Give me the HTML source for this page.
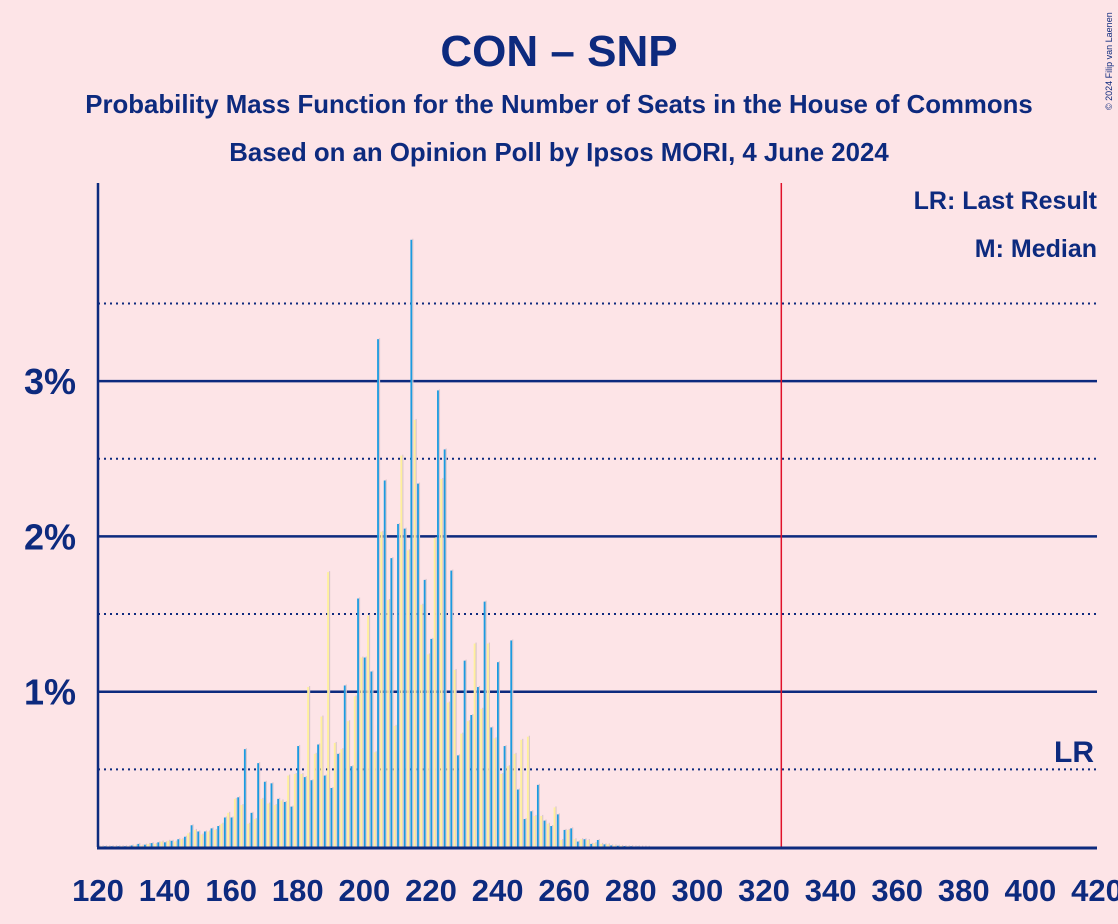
<!DOCTYPE html>
<html><head><meta charset="utf-8"><style>
html,body{margin:0;padding:0;background:#fde4e7;}
svg{display:block;font-family:"Liberation Sans",sans-serif;}
</style></head><body>
<svg id="chart" width="1118" height="924" viewBox="0 0 1118 924">
<rect x="0" y="0" width="1118" height="924" fill="#fde4e7"/>
<text x="559" y="66" text-anchor="middle" font-size="44" font-weight="bold" fill="#0d2a7e">CON – SNP</text>
<text x="559" y="113" text-anchor="middle" font-size="25.8" font-weight="bold" fill="#0d2a7e">Probability Mass Function for the Number of Seats in the House of Commons</text>
<text x="559" y="161" text-anchor="middle" font-size="25.8" font-weight="bold" fill="#0d2a7e">Based on an Opinion Poll by Ipsos MORI, 4 June 2024</text>
<text transform="translate(1112,110) rotate(-90)" font-size="9" fill="#0d2a7e">© 2024 Filip van Laenen</text>
<g id="grid"></g>
<g id="bars"></g>
<g id="axes"></g>
<text x="1097" y="209" text-anchor="end" font-size="25" font-weight="bold" fill="#0d2a7e">LR: Last Result</text>
<text x="1097" y="257" text-anchor="end" font-size="25" font-weight="bold" fill="#0d2a7e">M: Median</text>
<text x="1094" y="762" text-anchor="end" font-size="30" font-weight="bold" fill="#0d2a7e">LR</text>
</svg>
<script>
const seatStart = 120;
const probs = [
0.005,0.005,0.005,0.005,0.005,0.005,0.005,0.005,0.005,0.005,
0.01,0.01,0.02,0.01,0.015,0.02,0.025,0.02,0.03,0.035,
0.03,0.04,0.04,0.035,0.05,0.05,0.066,0.088,0.14,0.11,
0.10,0.08,0.10,0.10,0.12,0.11,0.135,0.15,0.19,0.22,
0.19,0.31,0.32,0.27,0.63,0.15,0.22,0.18,0.54,0.31,
0.42,0.28,0.41,0.27,0.31,0.30,0.29,0.46,0.26,0.47,
0.65,0.47,0.45,1.03,0.43,0.60,0.66,0.84,0.46,1.77,
0.38,0.67,0.60,0.63,1.04,0.81,0.52,0.97,1.60,1.22,
1.22,1.49,1.13,0.61,3.27,2.03,2.36,1.59,1.86,0.78,
2.08,2.52,2.05,1.91,3.91,2.75,2.34,1.56,1.72,1.24,
1.34,1.99,2.94,2.37,2.56,0.93,1.78,1.14,0.59,0.73,
1.20,0.81,0.85,1.31,1.03,0.89,1.58,1.31,0.77,0.70,
1.19,0.47,0.65,0.52,1.33,0.60,0.37,0.69,0.18,0.71,
0.23,0.20,0.40,0.20,0.17,0.15,0.135,0.255,0.21,0.045,
0.11,0.11,0.12,0.05,0.035,0.05,0.05,0.045,0.02,0.025,
0.045,0.02,0.017,0.017,0.01,0.01,0.008,0.007,0.006,0.005,
0.005,0.004,0.004,0.003,0.003,0.002
];
const xTicks = [120,140,160,180,200,220,240,260,280,300,320,340,360,380,400,420];
const yTicks = [1,2,3];
const yMinorTicks = [0.5,1.5,2.5,3.5];
const majority = 325.2;

const NS='http://www.w3.org/2000/svg';
const X0=98, X1=1097, Y0=847, PX=155.3;
function xs(s){return X0+(s-120)*(X1-X0)/300;}
function ys(v){return Y0-v*PX;}
function mk(tag,attrs,parent){const e=document.createElementNS(NS,tag);for(const k in attrs)e.setAttribute(k,attrs[k]);parent.appendChild(e);return e;}
const grid=document.getElementById('grid'), bars=document.getElementById('bars'), axes=document.getElementById('axes');

yMinorTicks.forEach(v=>{
  const l=mk('line',{x1:X0,x2:X1,y1:ys(v),y2:ys(v),stroke:'#0d2a7e','stroke-width':2,'stroke-dasharray':'2 4'},grid);
  
  
});
yTicks.forEach(v=>{
  const l=mk('line',{x1:X0,x2:X1,y1:ys(v),y2:ys(v),stroke:'#0d2a7e','stroke-width':2.5},grid);
  
  
  const t=mk('text',{x:76,y:ys(v)+13,'text-anchor':'end','font-size':36,'font-weight':'bold',fill:'#0d2a7e'},axes);
  t.textContent=v+'%';
  
  
});

probs.forEach((p,i)=>{
  const s=seatStart+i, x=xs(s);
  const col = (s%2===0)?'#1a9be0':'#fff09a';
  const sh=mk('rect',{x:x+1.2,y:ys(p)-1,width:1.2,height:Y0-ys(p)+1,fill:'#d9c6cc'},bars);
  
  
  const r=mk('rect',{x:x-0.6,y:ys(p),width:1.8,height:Y0-ys(p),fill:col},bars);
  
  
});

const red=mk('line',{x1:xs(majority),x2:xs(majority),y1:183,y2:Y0,stroke:'#e0102a','stroke-width':1.5},axes);



const ya=mk('line',{x1:X0,x2:X0,y1:183,y2:Y0,stroke:'#0d2a7e','stroke-width':2.5},axes);


const xa=mk('line',{x1:X0-1,x2:X1,y1:Y0+1,y2:Y0+1,stroke:'#0d2a7e','stroke-width':3},axes);



xTicks.forEach(v=>{
  const t=mk('text',{x:xs(v),y:901,'text-anchor':'middle','font-size':31,'font-weight':'bold',fill:'#0d2a7e'},axes);
  t.textContent=v;
  
  
});
</script>
</body></html>
